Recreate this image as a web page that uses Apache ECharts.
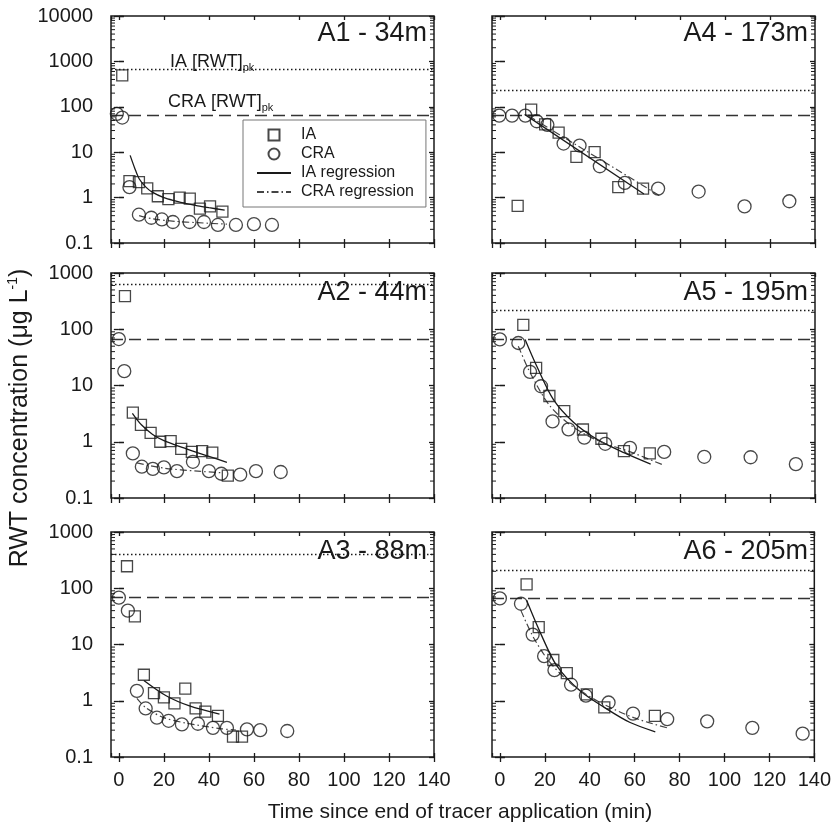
<!DOCTYPE html>
<html><head><meta charset="utf-8">
<script src="https://cdn.jsdelivr.net/npm/echarts@6/dist/echarts.min.js"></script>
<style>html,body{margin:0;padding:0;background:#fff}#c{width:834px;height:833px}</style>
</head><body><div id="c"></div>
<script>
const FONT = 'Liberation Sans, Arial, sans-serif';
const PANEL_TITLES = ['A1 - 34m','A2 - 44m','A3 - 88m','A4 - 173m','A5 - 195m','A6 - 205m'];
const X_MIN = -3.5, X_MAX = 140, X_STEP = 20;
const Y_MIN = 0.1;
const Y_MAX = [10000, 1000, 1000, 10000, 1000, 1000];
const MINOR_MULT = [2,3,4,5,6,7,8,9];
const IA_PEAK  = [665, 620, 405, 229, 215, 210];
const CRA_PEAK = [64, 67, 68, 64, 67, 66];
const LEGEND_NAMES = ['IA', 'CRA', 'IA regression', 'CRA regression'];

const A1_IA = [[1.5,490],[4.7,2.3],[8.9,2.2],[12.6,1.6],[17.3,1.07],[22,0.93],[27,1.0],[31.5,0.95],[36,0.57],[40.5,0.64],[46,0.49]];
const A1_CRA = [[-0.9,70],[1.5,58],[4.7,1.7],[8.9,0.42],[14.4,0.36],[19.1,0.33],[24,0.29],[31.4,0.29],[37.8,0.29],[44,0.25],[52,0.25],[60,0.26],[68,0.25]];
const A1_IA_REG = [[5,8.5],[7,4.5],[9,2.6],[12,1.7],[15,1.3],[20,1.0],[25,0.85],[30,0.74],[35,0.66],[40,0.6],[47,0.53]];
const A1_CRA_REG = [[9,0.40],[15,0.34],[25,0.30],[35,0.28],[48,0.26]];

const A2_IA = [[2.7,387],[6.2,3.3],[9.8,2.0],[14.1,1.44],[18.4,1.0],[23,1.03],[27.7,0.75],[32.4,0.66],[37,0.68],[41.5,0.64],[48.4,0.25]];
const A2_CRA = [[0,67],[2.4,18],[6.2,0.62],[10.2,0.36],[15.1,0.33],[20,0.35],[25.8,0.30],[32.9,0.44],[40,0.30],[45.5,0.27],[53.9,0.26],[60.9,0.30],[71.9,0.29]];
const A2_IA_REG = [[6,3.2],[10,2.0],[15,1.35],[20,1.05],[30,0.75],[40,0.55],[48,0.43]];
const A2_CRA_REG = [[8,0.42],[20,0.34],[35,0.30],[46,0.28]];

const A3_IA = [[3.6,246],[7.1,31.6],[11.1,2.9],[15.6,1.37],[20,1.15],[24.7,0.9],[29.5,1.64],[34.1,0.73],[38.4,0.64],[44,0.54],[50.7,0.23],[54.7,0.23]];
const A3_CRA = [[0,68],[4,40],[8,1.5],[11.9,0.73],[16.9,0.5],[22.1,0.44],[28,0.38],[35.1,0.39],[41.8,0.33],[48,0.33],[56.9,0.31],[62.8,0.30],[74.8,0.29]];
const A3_IA_REG = [[11.1,2.3],[21,1.23],[31.4,0.81],[44.7,0.58]];
const A3_CRA_REG = [[8,1.1],[12,0.75],[20,0.5],[30,0.4],[45,0.32],[52,0.3]];

const A4_IA = [[7.9,0.66],[13.9,87],[20.1,41],[26.1,27],[34,7.9],[42.1,10],[52.6,1.7],[63.6,1.58]];
const A4_CRA = [[-0.3,64],[5.4,64],[11.3,64],[16.4,48],[21.1,40],[28.3,15.5],[35.4,14],[44.4,4.9],[55.5,2.1],[70.3,1.58],[88.3,1.36],[108.7,0.64],[128.6,0.83]];
const A4_IA_REG = [[11,68],[64,1.2]];
const A4_CRA_REG = [[13,62],[71,1.1]];

const A5_IA = [[10.4,120],[16.1,20.6],[22,6.5],[28.6,3.5],[36.9,1.65],[45.1,1.13],[55.1,0.68],[66.6,0.62]];
const A5_CRA = [[0,66],[8.2,57],[13.4,17.5],[18.3,9.7],[23.4,2.3],[30.5,1.66],[37.5,1.18],[46.8,0.92],[57.8,0.78],[73,0.66],[90.8,0.54],[111.4,0.53],[131.5,0.40]];
const A5_IA_REG = [[11.2,66],[16.4,22],[23.8,5.6],[32.8,2.2],[43.2,1.1],[55.1,0.64],[67,0.40]];
const A5_CRA_REG = [[8.2,50],[13.4,17],[22.3,4.3],[32.8,1.8],[44.7,1.0],[58,0.66],[73,0.38]];

const A6_IA = [[11.9,117],[17.3,20.4],[23.8,5.3],[29.8,3.1],[38.7,1.3],[46.5,0.76],[69,0.54]];
const A6_CRA = [[0,66],[9.4,53],[14.6,15],[19.7,6.2],[24.3,3.5],[31.7,1.93],[38.3,1.23],[48.4,0.93],[59.3,0.59],[74.5,0.47],[92.3,0.43],[112.4,0.33],[134.8,0.26]];
const A6_IA_REG = [[11.9,61],[17.9,16.6],[25.3,4.2],[35.7,1.5],[47.7,0.71],[58,0.41],[69.2,0.28]];
const A6_CRA_REG = [[9.4,40],[14.9,13.5],[22.3,4.8],[32.8,1.85],[44.7,0.93],[59.6,0.5],[74.5,0.33]];

const PANELS = [
  [A1_IA, A1_CRA, A1_IA_REG, A1_CRA_REG],
  [A2_IA, A2_CRA, A2_IA_REG, A2_CRA_REG],
  [A3_IA, A3_CRA, A3_IA_REG, A3_CRA_REG],
  [A4_IA, A4_CRA, A4_IA_REG, A4_CRA_REG],
  [A5_IA, A5_CRA, A5_IA_REG, A5_CRA_REG],
  [A6_IA, A6_CRA, A6_IA_REG, A6_CRA_REG]
];

// layout (pixels)
const COL_LEFT = [111, 492];
const GRID_W = 323;
const ROW_TOP = [16, 273, 532];
const ROW_H = [227, 225, 225];

const INK = '#1a1a1a';
const fmt = v => String(+(+v).toPrecision(6));

const chart = echarts.init(document.getElementById('c'), null, {renderer: 'canvas'});
const grid = [], xAxis = [], yAxis = [], series = [], graphic = [];

PANELS.forEach((p, i) => {
  const col = Math.floor(i / 3), row = i % 3;
  grid.push({left: COL_LEFT[col], top: ROW_TOP[row], width: GRID_W, height: ROW_H[row],
    show: true, borderColor: INK, borderWidth: 1.5, backgroundColor: 'transparent', containLabel: false});
  const xBase = {gridIndex: i, type: 'value', min: X_MIN, max: X_MAX, minInterval: X_STEP, maxInterval: X_STEP,
    splitLine: {show: false}, axisLine: {show: false}};
  xAxis.push(Object.assign({}, xBase, {position: 'bottom',
    axisTick: {show: true, inside: false, length: 5, lineStyle: {color: INK, width: 1.3}},
    axisLabel: {show: row === 2, showMinLabel: false, fontSize: 20, color: INK, fontFamily: FONT, margin: 13}}));
  xAxis.push(Object.assign({}, xBase, {position: 'bottom',
    axisTick: {show: true, inside: true, length: 4, lineStyle: {color: INK, width: 1.3}},
    axisLabel: {show: false}}));
  xAxis.push(Object.assign({}, xBase, {position: 'top',
    axisTick: {show: true, inside: true, length: 4, lineStyle: {color: INK, width: 1.3}},
    axisLabel: {show: false}}));
  const yBase = {gridIndex: i, type: 'log', logBase: 10, min: Y_MIN, max: Y_MAX[i],
    splitLine: {show: false}, axisLine: {show: false}, minorTick: {show: false}};
  [['left', false, col === 0], ['left', true, false], ['right', false, false], ['right', true, false]].forEach(([pos, inside, lab]) => {
    yAxis.push(Object.assign({}, yBase, {position: pos,
      axisTick: {show: true, inside: inside, length: 5, lineStyle: {color: INK, width: 1.3}},
      axisLabel: {show: lab, fontSize: 20, color: INK, fontFamily: FONT, margin: 18, formatter: fmt}}));
  });
  const xi = i * 3, yi = i * 4;
  series.push({name: 'IA', type: 'scatter', xAxisIndex: xi, yAxisIndex: yi, data: p[0],
    symbol: 'rect', symbolSize: 11, z: 5,
    itemStyle: {color: 'rgba(0,0,0,0)', borderColor: INK, borderWidth: 1.3},
    markLine: {silent: true, symbol: 'none', label: {show: false}, animation: false,
      lineStyle: {type: [1.5, 2.5], color: INK, width: 1.4}, data: [{yAxis: IA_PEAK[i]}]}});
  series.push({name: 'CRA', type: 'scatter', xAxisIndex: xi, yAxisIndex: yi, data: p[1],
    symbol: 'circle', symbolSize: 13, z: 5,
    itemStyle: {color: 'rgba(0,0,0,0)', borderColor: INK, borderWidth: 1.3},
    markLine: {silent: true, symbol: 'none', label: {show: false}, animation: false,
      lineStyle: {type: [12, 6], color: '#333', width: 1.4}, data: [{yAxis: CRA_PEAK[i]}]}});
  series.push({name: 'IA regression', type: 'line', xAxisIndex: xi, yAxisIndex: yi, data: p[2],
    symbol: 'none', smooth: 0.3, z: 4, color: INK,
    lineStyle: {color: INK, width: 1.3, type: 'solid'}});
  series.push({name: 'CRA regression', type: 'line', xAxisIndex: xi, yAxisIndex: yi, data: p[3],
    symbol: 'none', smooth: 0.3, z: 4, color: '#444',
    lineStyle: {color: '#444', width: 1.2, type: [7, 3, 1.5, 3]}});
  // minor log ticks (inside, both sides)
  const minor = [];
  for (let e = Math.log10(Y_MIN); e < Math.log10(Y_MAX[i]); e++) {
    MINOR_MULT.forEach(m => minor.push([X_MIN, m * Math.pow(10, e)]));
  }
  series.push({type: 'custom', xAxisIndex: xi, yAxisIndex: yi, data: minor, silent: true, z: 6,
    renderItem: (params, api) => {
      const a = api.coord([X_MIN, api.value(1)]);
      const b = api.coord([X_MAX, api.value(1)]);
      return {type: 'group', children: [
        {type: 'line', shape: {x1: a[0], y1: a[1], x2: a[0] + 4, y2: a[1]}, style: {stroke: INK, lineWidth: 1}},
        {type: 'line', shape: {x1: b[0] - 4, y1: b[1], x2: b[0], y2: b[1]}, style: {stroke: INK, lineWidth: 1}}
      ]};
    }});
  graphic.push({type: 'text', x: COL_LEFT[col] + GRID_W - 7, y: ROW_TOP[row] + (row === 0 ? 4 : 6), z: 10,
    style: {text: PANEL_TITLES[i], fill: INK, font: '27px ' + FONT, align: 'right', verticalAlign: 'top'}});
});

const richPk = {n: {fontSize: 18, fontFamily: FONT, fill: INK, lineHeight: 22}, s: {fontSize: 11, fontFamily: FONT, fill: INK, lineHeight: 12, verticalAlign: 'bottom'}};
graphic.push({type: 'text', x: 170, y: 51, z: 10, style: {text: '{n|IA [RWT]}{s|pk}', fill: INK, rich: richPk}});
graphic.push({type: 'text', x: 168, y: 91, z: 10, style: {text: '{n|CRA [RWT]}{s|pk}', fill: INK, rich: richPk}});
graphic.push({type: 'text', x: 20, y: 418, rotation: Math.PI / 2, z: 10, style: {text: '{n|RWT concentration (μg L}{s|-1}{n|)}',
  align: 'center', verticalAlign: 'middle', fill: INK,
  rich: {n: {fontSize: 25, fontFamily: FONT, fill: INK, lineHeight: 28}, s: {fontSize: 14, fontFamily: FONT, fill: INK, lineHeight: 15, verticalAlign: 'top'}}}});
graphic.push({type: 'text', x: 460, y: 812, z: 10, style: {text: 'Time since end of tracer application (min)',
  align: 'center', verticalAlign: 'middle', fill: INK, font: '21px ' + FONT}});

const legendData = [
  {name: LEGEND_NAMES[0], icon: 'path://M0,0L10,0L10,10L0,10Z'},
  {name: LEGEND_NAMES[1]},
  {name: LEGEND_NAMES[2], itemStyle: {opacity: 0}},
  {name: LEGEND_NAMES[3], itemStyle: {opacity: 0}}
];

chart.setOption({
  animation: false,
  backgroundColor: '#fff',
  textStyle: {fontFamily: FONT},
  grid, xAxis, yAxis, series, graphic,
  legend: {show: true, left: 243, top: 120, orient: 'vertical', selectedMode: false,
    data: legendData, symbolKeepAspect: true,
    itemWidth: 34, itemHeight: 11, itemGap: 3, padding: [7, 12, 7, 13],
    borderColor: '#777', borderWidth: 1, backgroundColor: '#fff',
    textStyle: {fontSize: 16, color: INK, fontFamily: FONT, padding: [0, 0, 0, 5]}}
});
</script></body></html>
